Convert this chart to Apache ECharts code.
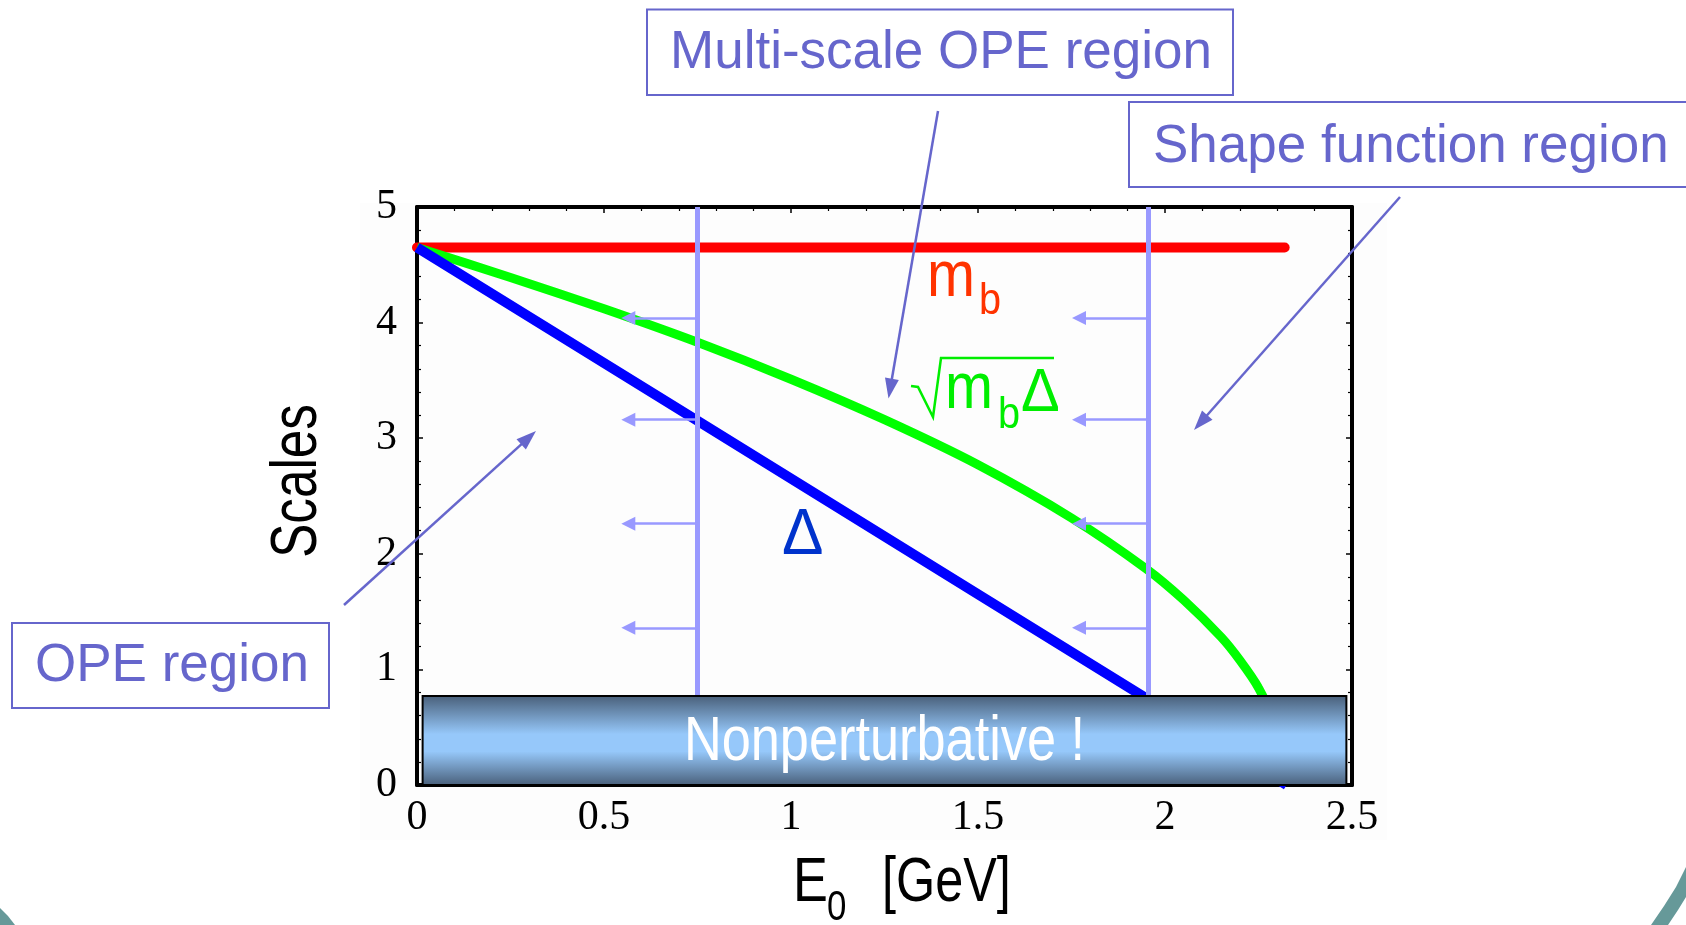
<!DOCTYPE html>
<html><head><meta charset="utf-8">
<script src="https://cdn.jsdelivr.net/npm/echarts@6/dist/echarts.min.js"></script>
<style>html,body{margin:0;padding:0;background:#fff}#c{width:1686px;height:925px}</style>
</head><body><div id="c"></div>
<script>
// ---------------- data ----------------
const xRange = [0, 2.5];
const yRange = [0, 5];
const xTickStep = 0.5;
const yTickStep = 1;

const mbE0 = [0, 2.32];
const mbScale = [4.65, 4.65];

const deltaE0 = [0, 0.75, 1.5, 1.95, 2.325];
const deltaScale = [4.65, 3.15, 1.65, 0.75, 0];

const sqrtE0 = [0, 0.25, 0.5, 0.75, 1.0, 1.25, 1.5, 1.75, 1.95, 2.05, 2.15, 2.2, 2.25, 2.3, 2.325];
const sqrtScale = [4.65, 4.39, 4.12, 3.83, 3.51, 3.16, 2.77, 2.31, 1.87, 1.60, 1.28, 1.08, 0.84, 0.48, 0];

const boundaryE0 = [0.75, 1.955];
const arrowLevels = [4.04, 3.16, 2.26, 1.36];
const arrowHeadE0 = [0.565, 1.77];

const npBox = [0.015, 0, 2.485, 0.77];
const npText = 'Nonperturbative !';

const xTitleMain = 'E', xTitleSub = '0', xTitleUnit = '[GeV]';
const yTitle = 'Scales';
const annMulti = 'Multi-scale OPE region';
const annShape = 'Shape function region';
const annOPE = 'OPE region';

// ---------------- helpers ----------------
const zip = (a, b) => a.map((v, i) => [v, b[i]]);
const SANS = '"Liberation Sans", Arial, Helvetica, sans-serif';
const SERIF = '"Liberation Serif", "Times New Roman", serif';
const ANN = '#6666cc';

function txt(x, baseline, text, size, color, sx, align, extra) {
  return Object.assign({
    type: 'text', x: x, y: baseline - 0.3465 * size, scaleX: sx || 1, z: 50,
    style: { text: text, fill: color, font: size + 'px ' + SANS, align: align || 'left', verticalAlign: 'middle' }
  }, extra || {});
}
function arrow(x1, y1, x2, y2, color, w, hl, hw) {
  const dx = x2 - x1, dy = y2 - y1, L = Math.hypot(dx, dy), ux = dx / L, uy = dy / L;
  const bx = x2 - ux * hl, by = y2 - uy * hl;
  return [
    { type: 'line', z: 50, shape: { x1: x1, y1: y1, x2: bx + ux * 2, y2: by + uy * 2 }, style: { stroke: color, lineWidth: w } },
    { type: 'polygon', z: 50, shape: { points: [[x2, y2], [bx - uy * hw, by + ux * hw], [bx + uy * hw, by - ux * hw]] }, style: { fill: color } }
  ];
}
function annBox(x, y, w, h, text, tx, tb) {
  return [
    { type: 'rect', z: 50, shape: { x: x, y: y, width: w, height: h }, style: { fill: 'rgba(0,0,0,0)', stroke: ANN, lineWidth: 2 } },
    txt(tx, tb, text, 53, ANN, 1)
  ];
}

const vLines = boundaryE0.map(x => ({ coords: [[x, yRange[0]], [x, yRange[1]]] }));
const hArrows = [];
boundaryE0.forEach((bx, i) => arrowLevels.forEach(y => hArrows.push({ coords: [[bx, y], [arrowHeadE0[i], y]] })));

const axisCommon = {
  type: 'value', splitLine: { show: false },
  axisLine: { show: true, onZero: false, lineStyle: { color: '#000', width: 4 } },
  axisTick: { show: true, inside: true, length: 6, lineStyle: { color: '#000', width: 1.5 } },
  minorTick: { show: true, splitNumber: 5, length: 4, lineStyle: { color: '#000', width: 1.2 } }
};

const graphics = [
  { type: 'rect', z: -10, shape: { x: 360, y: 203, width: 1027, height: 637 }, style: { fill: '#fdfdfd' } },
  // slide corner decorations
  { type: 'polygon', z: -5, shape: { points: [[0, 908], [8, 916], [15, 925], [0, 925]] }, style: { fill: '#669999' } },
  { type: 'polygon', z: -5, shape: { points: [[1686, 867], [1676, 887], [1664, 906], [1651, 925], [1668, 925], [1678, 910], [1686, 897]] }, style: { fill: '#669999' } },
  // axis titles
  txt(793, 905, xTitleMain, 63, '#000', 0.83),
  txt(827, 923, xTitleSub, 42, '#000', 0.83),
  txt(882, 905, xTitleUnit, 63, '#000', 0.8),
  { type: 'text', x: 298, y: 481, rotation: Math.PI / 2, scaleX: 0.8, z: 50,
    style: { text: yTitle, fill: '#000', font: '64px ' + SANS, align: 'center', verticalAlign: 'middle' } },
  // curve labels
  txt(927, 301, 'm', 64, '#ff3300', 0.9),
  txt(979, 317, 'b', 44, '#ff3300', 0.9),
  { type: 'polyline', z: 50, shape: { points: [[911, 386], [918, 387], [933, 417], [941, 358], [1054, 358]] }, style: { stroke: '#00ee00', lineWidth: 2.5, fill: null } },
  txt(945, 413, 'm', 64, '#00ee00', 0.9),
  txt(998, 431, 'b', 44, '#00ee00', 0.9),
  txt(1021, 415, '\u0394', 61, '#00ee00', 0.95),
  txt(782, 559, '\u0394', 64, '#0033cc', 0.97),
  // annotation boxes
  ...annBox(647, 9.5, 586, 85.5, annMulti, 670, 71.5),
  ...annBox(1129, 102, 600, 85, annShape, 1153, 166),
  ...annBox(12, 623, 317, 85, annOPE, 35, 685),
  // annotation arrows
  ...arrow(938, 111, 888.5, 398.5, ANN, 2.5, 20, 7),
  ...arrow(1400, 197, 1194, 430, ANN, 2.5, 20, 7),
  ...arrow(344, 605, 536, 431, ANN, 2.5, 20, 7)
];

const chart = echarts.init(document.getElementById('c'), null, { renderer: 'canvas' });
chart.setOption({
  animation: false,
  backgroundColor: '#ffffff',
  grid: { left: 417, top: 207, width: 935, height: 578, containLabel: false },
  xAxis: [
    Object.assign({}, axisCommon, { position: 'bottom', min: xRange[0], max: xRange[1], interval: xTickStep,
      axisLabel: { show: true, margin: 12, color: '#000', fontFamily: SERIF, fontSize: 42, formatter: v => String(v) } }),
    Object.assign({}, axisCommon, { position: 'top', min: xRange[0], max: xRange[1], interval: xTickStep, axisLabel: { show: false } })
  ],
  yAxis: [
    Object.assign({}, axisCommon, { position: 'left', min: yRange[0], max: yRange[1], interval: yTickStep,
      axisLabel: { show: true, margin: 20, color: '#000', fontFamily: SERIF, fontSize: 42, formatter: v => String(v) } }),
    Object.assign({}, axisCommon, { position: 'right', min: yRange[0], max: yRange[1], interval: yTickStep, axisLabel: { show: false } })
  ],
  series: [
    { name: 'mb', type: 'line', data: zip(mbE0, mbScale), showSymbol: false, z: 2,
      lineStyle: { color: '#ff0000', width: 10, cap: 'round' } },
    { name: 'sqrt', type: 'line', data: zip(sqrtE0, sqrtScale), showSymbol: false, smooth: 0.25, z: 3,
      lineStyle: { color: '#00ff00', width: 9 } },
    { name: 'delta', type: 'line', data: zip(deltaE0, deltaScale), showSymbol: false, z: 3,
      lineStyle: { color: '#0000ff', width: 10 } },
    { name: 'bounds', type: 'lines', coordinateSystem: 'cartesian2d', data: vLines, z: 4, silent: true,
      symbol: ['none', 'none'], lineStyle: { color: '#9999ff', width: 5, opacity: 1 } },
    { name: 'arrows', type: 'lines', coordinateSystem: 'cartesian2d', data: hArrows, z: 4, silent: true,
      symbol: ['none', 'triangle'], symbolSize: [0, 14],
      itemStyle: { color: '#9999ff' }, lineStyle: { color: '#9999ff', width: 2.5, opacity: 1 } },
    { name: 'np', type: 'custom', coordinateSystem: 'cartesian2d', z: 6, silent: true,
      data: [npBox], encode: { x: [0, 2], y: [1, 3] },
      renderItem: function (params, api) {
        const p0 = api.coord([api.value(0), api.value(3)]);
        const p1 = api.coord([api.value(2), api.value(1)]);
        const w = p1[0] - p0[0], h = p1[1] - p0[1];
        return { type: 'group', children: [
          { type: 'rect', shape: { x: p0[0], y: p0[1], width: w, height: h },
            style: { fill: new echarts.graphic.LinearGradient(0, 0, 0, 1, [
              { offset: 0, color: '#485e78' }, { offset: 0.43, color: '#96c8fa' },
              { offset: 0.62, color: '#96c8fa' }, { offset: 1, color: '#485e78' }]),
              stroke: '#000', lineWidth: 2 } },
          { type: 'text', x: p0[0] + w / 2, y: p0[1] + h / 2 + 2, scaleX: 0.83,
            style: { text: npText, fill: '#ffffff', font: '63px ' + SANS, align: 'center', verticalAlign: 'middle' } }
        ] };
      } }
  ],
  graphic: graphics
});
</script></body></html>
